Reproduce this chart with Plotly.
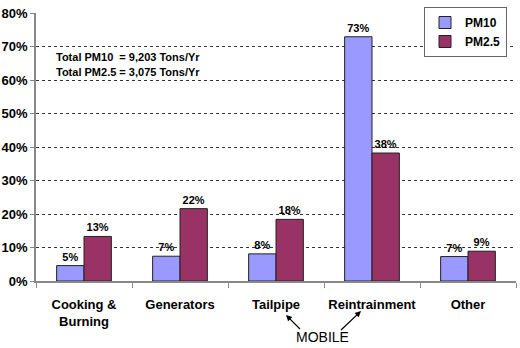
import plotly.graph_objects as go

categories = ["Cooking &<br>Burning", "Generators", "Tailpipe", "Reintrainment", "Other"]
pm10 = [4.6, 7.4, 8.1, 72.9, 7.3]
pm25 = [13.3, 21.6, 18.4, 38.2, 8.9]
y_ticks = [0, 10, 20, 30, 40, 50, 60, 70, 80]
y_tick_labels = [f"{v}%" for v in y_ticks]

FONT = "Liberation Sans"
L, R, T, B = 36, 4, 13, 67
W, H = 520, 348
pw, ph = W - L - R, H - T - B

def px(x):
    return (x - L) / pw

def py(y):
    return (H - B - y) / ph

fig = go.Figure()
fig.add_trace(go.Bar(
    x=categories, y=pm10, name="<b>PM10</b>",
    marker=dict(color="#9999FF", line=dict(color="#222222", width=1)),
    texttemplate="<b>%{y:.0f}%</b>", textposition="outside",
    textfont=dict(family=FONT, size=11, color="black"), cliponaxis=False,
))
fig.add_trace(go.Bar(
    x=categories, y=pm25, name="<b>PM2.5</b>",
    marker=dict(color="#993366", line=dict(color="#222222", width=1)),
    texttemplate="<b>%{y:.0f}%</b>", textposition="outside",
    textfont=dict(family=FONT, size=11, color="black"), cliponaxis=False,
))

fig.update_layout(
    width=W, height=H,
    margin=dict(l=L, r=R, t=T, b=B, autoexpand=False),
    paper_bgcolor="white", plot_bgcolor="white",
    barmode="group", bargap=0.43, bargroupgap=0,
    font=dict(family=FONT, color="black"),
    legend=dict(
        x=px(507), y=py(7), xanchor="right", yanchor="top",
        bordercolor="#666666", borderwidth=1, bgcolor="white",
        font=dict(family=FONT, size=12), itemwidth=30, tracegroupgap=2,
    ),
    showlegend=True,
)
fig.update_yaxes(
    range=[0, 80], tickvals=y_ticks, ticktext=[f"<b>{t}</b>" for t in y_tick_labels],
    showgrid=True, gridcolor="#333333", griddash="dot", gridwidth=1,
    showline=True, linecolor="#888888", linewidth=1.5,
    ticks="outside", ticklen=4, tickcolor="#888888",
    tickfont=dict(family=FONT, size=13), zeroline=False, automargin=False,
)
fig.update_xaxes(
    tickson="boundaries", ticks="outside", ticklen=5, tickcolor="#888888",
    showline=True, linecolor="#888888", linewidth=1.5,
    ticktext=[f"<b>{c}</b>" for c in categories], tickvals=categories,
    tickfont=dict(family=FONT, size=13), ticklabelstandoff=11, tickangle=0,
    automargin=False,
)

fig.add_annotation(xref="paper", yref="paper", x=px(54), y=py(57), xanchor="left",
                   yanchor="middle", text="<b>Total PM10  = 9,203 Tons/Yr</b>",
                   showarrow=False, font=dict(family=FONT, size=11))
fig.add_annotation(xref="paper", yref="paper", x=px(54), y=py(72), xanchor="left",
                   yanchor="middle", text="<b>Total PM2.5 = 3,075 Tons/Yr</b>",
                   showarrow=False, font=dict(family=FONT, size=11))
fig.add_annotation(xref="paper", yref="paper", x=px(322), y=py(337), xanchor="center",
                   yanchor="middle", text="MOBILE", showarrow=False,
                   font=dict(family=FONT, size=14))

fig.add_annotation(xref="paper", yref="paper", x=px(286), y=py(315),
                   ax=14, ay=14, text=" ", showarrow=True, arrowhead=2,
                   arrowsize=1, arrowwidth=1.2, arrowcolor="black",
                   font=dict(size=1), borderpad=0, borderwidth=0,
                   standoff=0, startstandoff=0)
fig.add_annotation(xref="paper", yref="paper", x=px(361), y=py(311),
                   ax=-20, ay=19, text=" ", showarrow=True, arrowhead=2,
                   arrowsize=1, arrowwidth=1.2, arrowcolor="black",
                   font=dict(size=1), borderpad=0, borderwidth=0,
                   standoff=0, startstandoff=0)

fig.write_html("out.html")
